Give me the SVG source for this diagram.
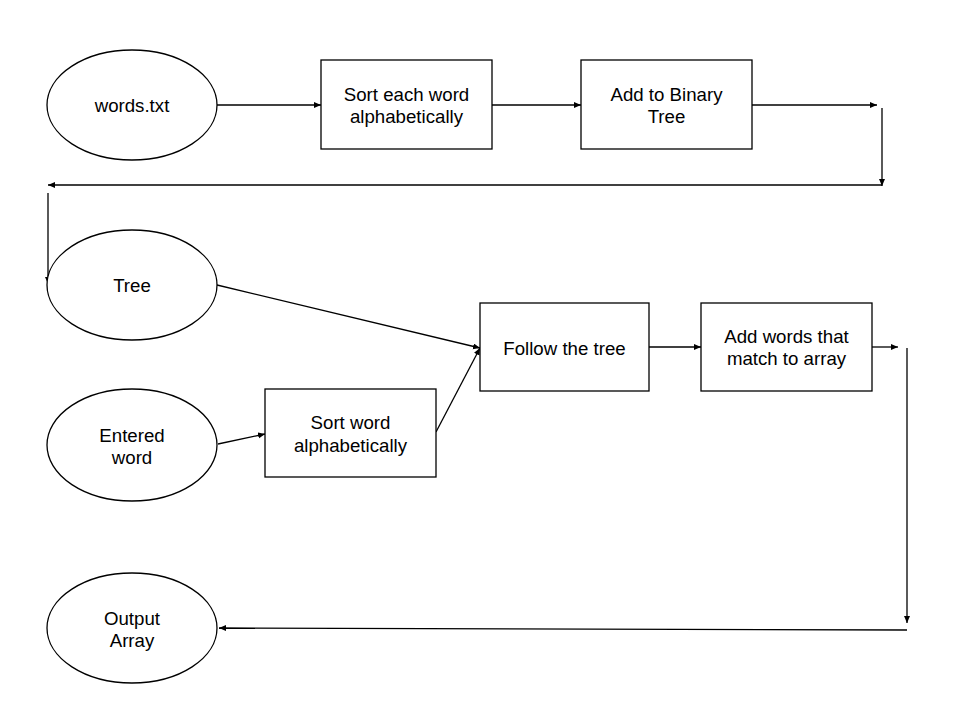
<svg xmlns="http://www.w3.org/2000/svg" width="960" height="720" viewBox="0 0 960 720">
<style>
.shape{fill:#ffffff;stroke:#000000;stroke-width:1.3}
.lbl{font-family:"Liberation Sans",Arial,sans-serif;font-size:18.67px;fill:#000000;text-anchor:middle}
.con{stroke:#000000;stroke-width:1.3;fill:none;marker-end:url(#ah)}
</style>
<defs>
<marker id="ah" markerUnits="userSpaceOnUse" markerWidth="8" markerHeight="8" refX="7" refY="3" orient="auto">
<path d="M0,0 L7,3 L0,6 z" fill="#000000"/>
</marker>
</defs>
<rect width="960" height="720" fill="#ffffff"/>
<g id="connectors">
<line class="con" x1="217" y1="105" x2="321" y2="105"/>
<line class="con" x1="492" y1="105" x2="581" y2="105"/>
<line class="con" x1="752" y1="105" x2="877" y2="105"/>
<line class="con" x1="882" y1="108" x2="882" y2="186"/>
<line class="con" x1="882" y1="185" x2="48" y2="185"/>
<line class="con" x1="48" y1="193" x2="48" y2="284"/>
<line class="con" x1="217" y1="285" x2="480" y2="348"/>
<line class="con" x1="218" y1="444" x2="265" y2="434"/>
<line class="con" x1="436" y1="432" x2="480" y2="348"/>
<line class="con" x1="649" y1="347" x2="701" y2="347"/>
<line class="con" x1="872" y1="347" x2="898" y2="347"/>
<line class="con" x1="907" y1="348" x2="907" y2="623"/>
<line class="con" x1="907" y1="630" x2="219" y2="628"/>
</g>
<g id="words_txt">
<ellipse class="shape" cx="132" cy="105" rx="85" ry="55"/>
<text class="lbl" x="132" y="112">words.txt</text>
</g>
<g id="sort_each">
<rect class="shape" x="321" y="60" width="171" height="89"/>
<text class="lbl" x="406.5" y="101">Sort each word</text>
<text class="lbl" x="406.5" y="123">alphabetically</text>
</g>
<g id="add_binary">
<rect class="shape" x="581" y="60" width="171" height="89"/>
<text class="lbl" x="666.5" y="101">Add to Binary</text>
<text class="lbl" x="666.5" y="123">Tree</text>
</g>
<g id="tree">
<ellipse class="shape" cx="132" cy="285" rx="85" ry="55"/>
<text class="lbl" x="132" y="292">Tree</text>
</g>
<g id="follow">
<rect class="shape" x="480" y="303" width="169" height="88"/>
<text class="lbl" x="564.5" y="355">Follow the tree</text>
</g>
<g id="add_words">
<rect class="shape" x="701" y="303" width="171" height="88"/>
<text class="lbl" x="786.5" y="343">Add words that</text>
<text class="lbl" x="786.5" y="365">match to array</text>
</g>
<g id="entered">
<ellipse class="shape" cx="132" cy="445" rx="85" ry="56"/>
<text class="lbl" x="132" y="442">Entered</text>
<text class="lbl" x="132" y="464">word</text>
</g>
<g id="sort_word">
<rect class="shape" x="265" y="389" width="171" height="88"/>
<text class="lbl" x="350.5" y="429">Sort word</text>
<text class="lbl" x="350.5" y="452">alphabetically</text>
</g>
<g id="output">
<ellipse class="shape" cx="132" cy="628" rx="85" ry="55"/>
<text class="lbl" x="132" y="625">Output</text>
<text class="lbl" x="132" y="647">Array</text>
</g>
</svg>
